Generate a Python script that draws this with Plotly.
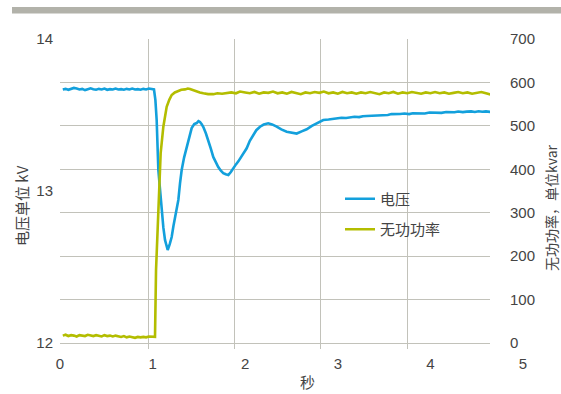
import plotly.graph_objects as go

# ---- data -------------------------------------------------------------
# voltage trace: time (s) and bus voltage (kV)
volt_time = [
    0.03, 0.06, 0.09, 0.12, 0.15, 0.18, 0.21, 0.24, 0.27, 0.30,
    0.33, 0.36, 0.39, 0.42, 0.45, 0.48, 0.51, 0.54, 0.57, 0.60,
    0.63, 0.66, 0.69, 0.72, 0.75, 0.78, 0.81, 0.84, 0.87, 0.90,
    0.93, 0.96, 0.99, 1.015, 1.03, 1.044, 1.062, 1.08, 1.098, 1.116,
    1.134, 1.150, 1.163, 1.185, 1.206, 1.225, 1.242, 1.260, 1.278, 1.296,
    1.314, 1.340, 1.368, 1.395, 1.422, 1.450, 1.476, 1.495, 1.512, 1.530,
    1.548, 1.575, 1.601, 1.628, 1.655, 1.680, 1.709, 1.735, 1.763, 1.790,
    1.818, 1.845, 1.871, 1.900, 1.926, 1.960, 1.985, 2.016, 2.050, 2.087,
    2.120, 2.160, 2.200, 2.249, 2.290, 2.340, 2.390, 2.448, 2.500, 2.556,
    2.610, 2.664, 2.720, 2.772, 2.810, 2.843, 2.900, 2.950, 2.988, 3.040,
    3.090, 3.132, 3.180, 3.230, 3.270, 3.312, 3.360, 3.410, 3.450, 3.491,
    3.540, 3.580, 3.630, 3.672, 3.720, 3.770, 3.810, 3.852, 3.900, 3.940,
    3.990, 4.031, 4.080, 4.120, 4.170, 4.212, 4.260, 4.300, 4.350, 4.392,
    4.440, 4.480, 4.520, 4.560, 4.600, 4.651,
]
voltage_kv = [
    13.668, 13.672, 13.666, 13.670, 13.678, 13.674, 13.668, 13.672, 13.664, 13.670,
    13.676, 13.670, 13.666, 13.672, 13.668, 13.674, 13.666, 13.670, 13.668, 13.674,
    13.668, 13.670, 13.666, 13.672, 13.668, 13.674, 13.668, 13.670, 13.666, 13.672,
    13.668, 13.674, 13.670, 13.668, 13.600, 13.467, 13.138, 12.990, 12.875, 12.760,
    12.678, 12.630, 12.612, 12.650, 12.697, 12.770, 12.829, 12.900, 12.941, 13.050,
    13.138, 13.220, 13.289, 13.360, 13.414, 13.440, 13.447, 13.460, 13.454, 13.440,
    13.421, 13.380, 13.336, 13.280, 13.224, 13.190, 13.158, 13.135, 13.118, 13.110,
    13.105, 13.125, 13.151, 13.175, 13.195, 13.225, 13.250, 13.281, 13.330, 13.368,
    13.400, 13.423, 13.437, 13.445, 13.438, 13.423, 13.405, 13.390, 13.382, 13.378,
    13.392, 13.406, 13.428, 13.445, 13.458, 13.467, 13.470, 13.476, 13.478, 13.482,
    13.480, 13.485, 13.488, 13.486, 13.492, 13.493, 13.495, 13.494, 13.500, 13.502,
    13.500, 13.506, 13.504, 13.507, 13.510, 13.506, 13.512, 13.511, 13.514, 13.510,
    13.516, 13.515, 13.518, 13.514, 13.520, 13.520, 13.518, 13.523, 13.519, 13.522,
    13.524, 13.520, 13.525, 13.521, 13.524, 13.520,
]

# reactive power trace: time (s) and reactive power (kvar)
var_time = [
    0.03, 0.06, 0.09, 0.12, 0.15, 0.18, 0.21, 0.24, 0.27, 0.30,
    0.33, 0.36, 0.39, 0.42, 0.45, 0.48, 0.51, 0.54, 0.57, 0.60,
    0.63, 0.66, 0.69, 0.72, 0.75, 0.78, 0.81, 0.84, 0.87, 0.90,
    0.93, 0.96, 0.99, 1.015, 1.026, 1.037, 1.062, 1.087, 1.116, 1.152,
    1.180, 1.206, 1.240, 1.278, 1.310, 1.350, 1.380, 1.404, 1.440, 1.476,
    1.510, 1.548, 1.600, 1.656, 1.700, 1.750, 1.800, 1.850, 1.900, 1.944,
    2.00, 2.05, 2.10, 2.15, 2.20, 2.25, 2.30, 2.35, 2.40, 2.45,
    2.50, 2.55, 2.60, 2.65, 2.70, 2.75, 2.80, 2.85, 2.90, 2.95,
    3.00, 3.05, 3.10, 3.15, 3.20, 3.25, 3.30, 3.35, 3.40, 3.45,
    3.50, 3.55, 3.60, 3.65, 3.70, 3.75, 3.80, 3.85, 3.90, 3.95,
    4.00, 4.05, 4.10, 4.15, 4.20, 4.25, 4.30, 4.35, 4.40, 4.45,
    4.50, 4.55, 4.60, 4.65,
]
reactive_kvar = [
    17, 19, 16, 18, 17, 15, 18, 17, 16, 19,
    17, 16, 18, 17, 15, 18, 16, 17, 15, 17,
    16, 14, 16, 13, 15, 14, 12, 14, 13, 14,
    13, 15, 14, 14, 14, 168, 322, 437, 498, 544,
    560, 571, 577, 581, 583, 584, 586, 585, 582, 580,
    577, 575, 573, 573, 575, 574, 576, 577, 575, 579,
    577, 575, 578, 574, 577, 576, 579, 575, 577, 574,
    578, 576, 573, 577, 575, 578, 576, 579, 575, 577,
    574, 578, 575, 577, 574, 577, 575, 578, 576, 573,
    577, 575, 578, 574, 577, 575, 578, 576, 574, 577,
    575, 578, 575, 577, 574, 576, 578, 575, 577, 574,
    576, 578, 575, 572,
]

x_tick_labels = [0, 1, 2, 3, 4, 5]
left_ticks = [12, 13, 14]
column_lines = [1, 2, 3, 4]

# ---- styling ----------------------------------------------------------
BLUE = "#13a0dc"
OLIVE = "#b3bd00"
GRID = "#c2c2ba"
TEXT = "#444444"
FONT = "Liberation Sans, Arial, Noto Sans CJK SC, sans-serif"
CJK = "Noto Sans CJK SC, sans-serif"

W, H = 561, 394
L, R, T, B = 60, 523, 39, 343          # plot-area box in px (R = end of label scale)
GRID_RIGHT = 490                       # where the framed area ends
PW, PH = R - L, B - T
frame_frac = (GRID_RIGHT - L) / PW


def px(x):
    return (x - L) / PW


def py(y):
    return (B - y) / PH


fig = go.Figure()
fig.add_trace(go.Scatter(
    x=volt_time, y=voltage_kv, name="电压", mode="lines",
    line=dict(color=BLUE, width=2.6), xaxis="x", yaxis="y",
    legendgroup="v",
))
fig.add_trace(go.Scatter(
    x=var_time, y=reactive_kvar, name="无功功率", mode="lines",
    line=dict(color=OLIVE, width=2.6), xaxis="x", yaxis="y2",
    legendgroup="q",
))
# carriers for the label scale and the column grid
for ax in ("x2", "x3"):
    fig.add_trace(go.Scatter(
        x=[0, 5], y=[None, None], mode="lines", xaxis=ax, yaxis="y",
        showlegend=False, hoverinfo="skip",
    ))

fig.update_layout(
    width=W, height=H,
    margin=dict(l=L, r=W - R, t=T, b=H - B),
    paper_bgcolor="white", plot_bgcolor="rgba(0,0,0,0)",
    font=dict(family=FONT, size=15, color=TEXT),
    showlegend=True,
    legend=dict(
        x=px(340), y=py(214), xanchor="left", yanchor="middle",
        bgcolor="rgba(0,0,0,0)", borderwidth=0,
        traceorder="grouped", tracegroupgap=8,
        font=dict(family=CJK, size=15, color=TEXT),
    ),
    # data scale (seconds), same px/second as the labelled scale
    xaxis=dict(
        domain=[0, frame_frac], range=[0, 5 * frame_frac],
        showgrid=False, zeroline=False, showticklabels=False,
        ticks="", showline=False, anchor="y",
    ),
    # labelled second scale
    xaxis2=dict(
        domain=[0, 1], range=[0, 5], anchor="y",
        tickvals=x_tick_labels, ticktext=[str(v) for v in x_tick_labels],
        showgrid=False, zeroline=False, ticks="", showline=False,
        ticklabelstandoff=10,
        tickfont=dict(family=FONT, size=15, color=TEXT),
    ),
    # column grid: the framed area split into equal columns
    xaxis3=dict(
        overlaying="x", range=[-0.02, 4.96], anchor="y",
        tickvals=column_lines, showgrid=True, gridcolor=GRID, gridwidth=1,
        ticks="outside", ticklen=5, tickcolor=GRID, tickwidth=1,
        showticklabels=False, zeroline=False, showline=False,
    ),
    yaxis=dict(
        range=[12, 14], domain=[0, 1], anchor="x",
        tickvals=left_ticks, ticktext=[str(v) for v in left_ticks],
        showgrid=False, zeroline=False, ticks="", showline=False,
        ticklabelstandoff=6,
        tickfont=dict(family=FONT, size=15, color=TEXT),
    ),
    yaxis2=dict(
        range=[0, 700], overlaying="y", side="right", anchor="x",
        dtick=100, tick0=0,
        showgrid=True, gridcolor=GRID, gridwidth=1,
        zeroline=True, zerolinecolor=GRID, zerolinewidth=1,
        ticks="", showline=False, ticklabelstandoff=19,
        tickfont=dict(family=FONT, size=15, color=TEXT),
    ),
    shapes=[dict(
        type="rect", xref="paper", yref="paper",
        x0=px(12), x1=px(561), y0=py(13.5), y1=py(7),
        fillcolor="#b2b2aa", line=dict(width=0), layer="above",
    )],
    annotations=[
        dict(text="秒", x=px(307), y=py(381), xref="paper", yref="paper",
             showarrow=False, xanchor="center", yanchor="middle",
             font=dict(family=CJK, size=15, color=TEXT)),
        dict(text="电压单位 kV", x=px(21), y=py(206), xref="paper", yref="paper",
             showarrow=False, textangle=-90, xanchor="center", yanchor="middle",
             font=dict(family=CJK, size=15, color=TEXT)),
        dict(text="无功功率，单位kvar", x=px(551), y=py(208), xref="paper", yref="paper",
             showarrow=False, textangle=-90, xanchor="center", yanchor="middle",
             font=dict(family=CJK, size=14, color=TEXT)),
    ],
)

fig.write_html("out.html")
